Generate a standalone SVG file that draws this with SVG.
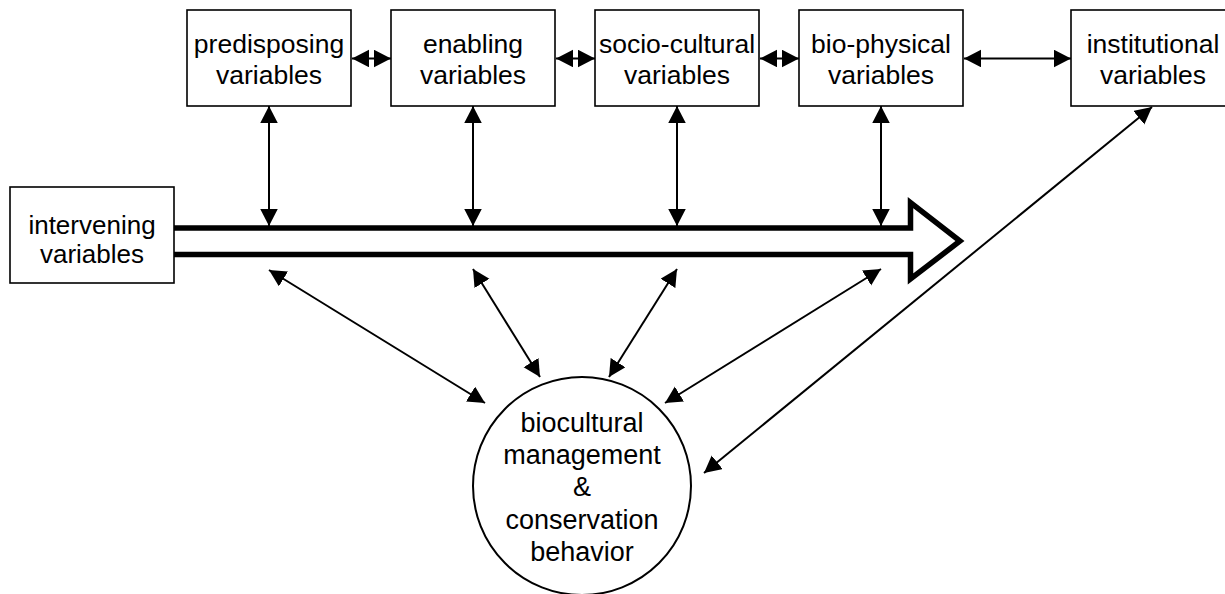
<svg xmlns="http://www.w3.org/2000/svg" width="1225" height="594" viewBox="0 0 1225 594">
<style>
.box{fill:#fff;stroke:#000;stroke-width:1.6}
.t{font-family:"Liberation Sans",Arial,sans-serif;font-size:26.5px;fill:#000;text-anchor:middle}
.tc{font-size:27px}
.ti{font-size:26px}
.c{stroke:#000;stroke-width:2;fill:none;marker-start:url(#ah);marker-end:url(#ah)}
.big{stroke:#000;stroke-width:5.5;fill:none;stroke-linejoin:miter;stroke-miterlimit:10}
</style>
<defs>
<marker id="ah" markerUnits="userSpaceOnUse" markerWidth="18" markerHeight="18" viewBox="0 0 18 18" refX="17" refY="8.75" orient="auto-start-reverse">
<path d="M0,0 L17,8.75 L0,17.5 z" fill="#000"/>
</marker>
</defs>
<rect width="1225" height="594" fill="#fff"/>
<g id="connectors">
<line class="c" x1="352" y1="58.5" x2="391" y2="58.5"/>
<line class="c" x1="556" y1="58.5" x2="595" y2="58.5"/>
<line class="c" x1="760" y1="58.5" x2="799" y2="58.5"/>
<line class="c" x1="964" y1="58.5" x2="1071" y2="58.5"/>
<line class="c" x1="269" y1="106" x2="269" y2="226"/>
<line class="c" x1="473" y1="106" x2="473" y2="226"/>
<line class="c" x1="677" y1="106" x2="677" y2="226"/>
<line class="c" x1="881" y1="106" x2="881" y2="226"/>
<line class="c" x1="269" y1="270" x2="485" y2="403"/>
<line class="c" x1="473" y1="269" x2="540" y2="377"/>
<line class="c" x1="677" y1="269" x2="609" y2="377"/>
<line class="c" x1="881" y1="269" x2="665" y2="403"/>
<line class="c" x1="1152" y1="107" x2="704" y2="473"/>
</g>
<g id="main-arrow">
<path class="big" d="M174,228 H910.5 V202.5 L960,241 L910.5,279 V254.5 H174"/>
</g>
<g id="predisposing">
<rect class="box" x="187" y="10" width="164" height="96"/>
<text class="t" x="269" y="53">predisposing</text>
<text class="t" x="269" y="84">variables</text>
</g>
<g id="enabling">
<rect class="box" x="391" y="10" width="164" height="96"/>
<text class="t" x="473" y="53">enabling</text>
<text class="t" x="473" y="84">variables</text>
</g>
<g id="socio-cultural">
<rect class="box" x="595" y="10" width="164" height="96"/>
<text class="t" x="677" y="53">socio-cultural</text>
<text class="t" x="677" y="84">variables</text>
</g>
<g id="bio-physical">
<rect class="box" x="799" y="10" width="164" height="96"/>
<text class="t" x="881" y="53">bio-physical</text>
<text class="t" x="881" y="84">variables</text>
</g>
<g id="institutional">
<rect class="box" x="1071" y="10" width="164" height="96"/>
<text class="t" x="1153" y="53">institutional</text>
<text class="t" x="1153" y="84">variables</text>
</g>
<g id="intervening">
<rect class="box" x="10" y="187" width="164" height="96"/>
<text class="t ti" x="92" y="234">intervening</text>
<text class="t ti" x="92" y="262.5">variables</text>
</g>
<g id="behavior">
<circle cx="582" cy="486" r="109" fill="#fff" stroke="#000" stroke-width="2"/>
<text class="t tc" x="582" y="432">biocultural</text>
<text class="t tc" x="582" y="464">management</text>
<text class="t tc" x="582" y="496">&amp;</text>
<text class="t tc" x="582" y="529">conservation</text>
<text class="t tc" x="582" y="561">behavior</text>
</g>
</svg>
